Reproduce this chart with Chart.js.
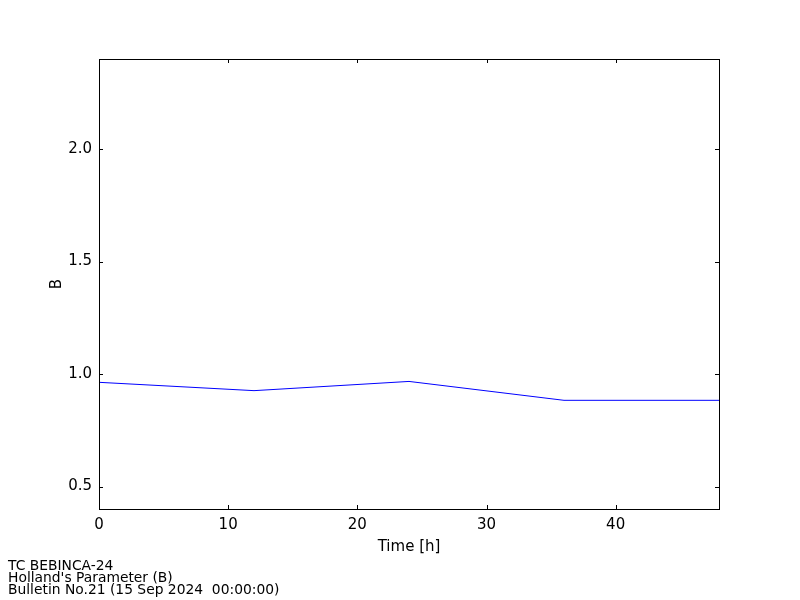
<!DOCTYPE html>
<html lang="en">
<head>
  <meta charset="UTF-8">
  <title>Holland's Parameter (B)</title>
  <script src="https://cdn.jsdelivr.net/npm/chart.js"></script>
  <style>
    * { margin: 0; padding: 0; box-sizing: border-box; }
    body { width: 800px; height: 600px; background: #fff; position: relative; overflow: hidden; }
    #wrap { position: absolute; left: 0; top: 0; width: 800px; height: 600px; }
    .footer {
      position: absolute;
      left: 8px;
      top: 559px;
      font-family: "DejaVu Sans", sans-serif;
      font-size: 13.85px;
      line-height: 12px;
      color: #000;
    }
  </style>
</head>
<body>
  <div id="wrap"><canvas id="chart" width="800" height="600"></canvas></div>
  <div class="footer">
    TC BEBINCA-24<br>
    Holland's Parameter (B)<br>
    Bulletin No.21 (15 Sep 2024&nbsp; 00:00:00)
  </div>

  <script>
    // data
    const hours = [0, 12, 24, 36, 48];
    const bValues = [0.963, 0.926, 0.967, 0.883, 0.883];
    const xTicks = [0, 10, 20, 30, 40];
    const yTicks = [0.5, 1.0, 1.5, 2.0];

    // matplotlib-like frame with inward ticks on all four sides
    const framePlugin = {
      id: 'frame',
      afterDraw(chart) {
        const { ctx, chartArea: a, scales } = chart;
        const len = 4;
        ctx.save();
        ctx.strokeStyle = '#000';
        ctx.lineWidth = 1;
        ctx.strokeRect(a.left + 0.5, a.top + 0.5, a.right - a.left, a.bottom - a.top);
        ctx.beginPath();
        scales.x.ticks.forEach(t => {
          const px = Math.round(scales.x.getPixelForValue(t.value)) + 0.5;
          ctx.moveTo(px, a.bottom); ctx.lineTo(px, a.bottom - len);
          ctx.moveTo(px, a.top); ctx.lineTo(px, a.top + len);
        });
        scales.y.ticks.forEach(t => {
          const py = Math.round(scales.y.getPixelForValue(t.value)) + 0.5;
          ctx.moveTo(a.left, py); ctx.lineTo(a.left + len, py);
          ctx.moveTo(a.right, py); ctx.lineTo(a.right - len, py);
        });
        ctx.stroke();
        ctx.restore();
      }
    };

    const font = { family: 'DejaVu Sans', size: 15 };

    new Chart(document.getElementById('chart'), {
      type: 'line',
      data: {
        datasets: [{
          data: hours.map((h, i) => ({ x: h, y: bValues[i] })),
          borderColor: '#0000ff',
          borderWidth: 1,
          pointRadius: 0,
          tension: 0,
          fill: false
        }]
      },
      options: {
        responsive: false,
        animation: false,
        layout: { padding: { top: 59, right: 81, left: 0, bottom: 0 } },
        plugins: { legend: { display: false }, tooltip: { enabled: false } },
        scales: {
          x: {
            type: 'linear',
            min: 0,
            max: 48,
            afterBuildTicks: s => { s.ticks = xTicks.map(v => ({ value: v })); },
            afterFit: s => { s.height = 91; },
            grid: { display: false },
            border: { display: false },
            ticks: { color: '#000', font, padding: -1, maxRotation: 0 },
            title: { display: true, text: 'Time [h]', color: '#000', font, padding: { top: 0, bottom: 44 } }
          },
          y: {
            min: 0.4,
            max: 2.4,
            afterBuildTicks: s => { s.ticks = yTicks.map(v => ({ value: v })); },
            afterFit: s => { s.width = 99; },
            grid: { display: false },
            border: { display: false },
            ticks: { color: '#000', font, padding: -1, callback: v => v.toFixed(1) },
            title: { display: true, text: 'B', color: '#000', font, padding: { top: 48 } }
          }
        }
      },
      plugins: [framePlugin]
    });
  </script>
</body>
</html>
